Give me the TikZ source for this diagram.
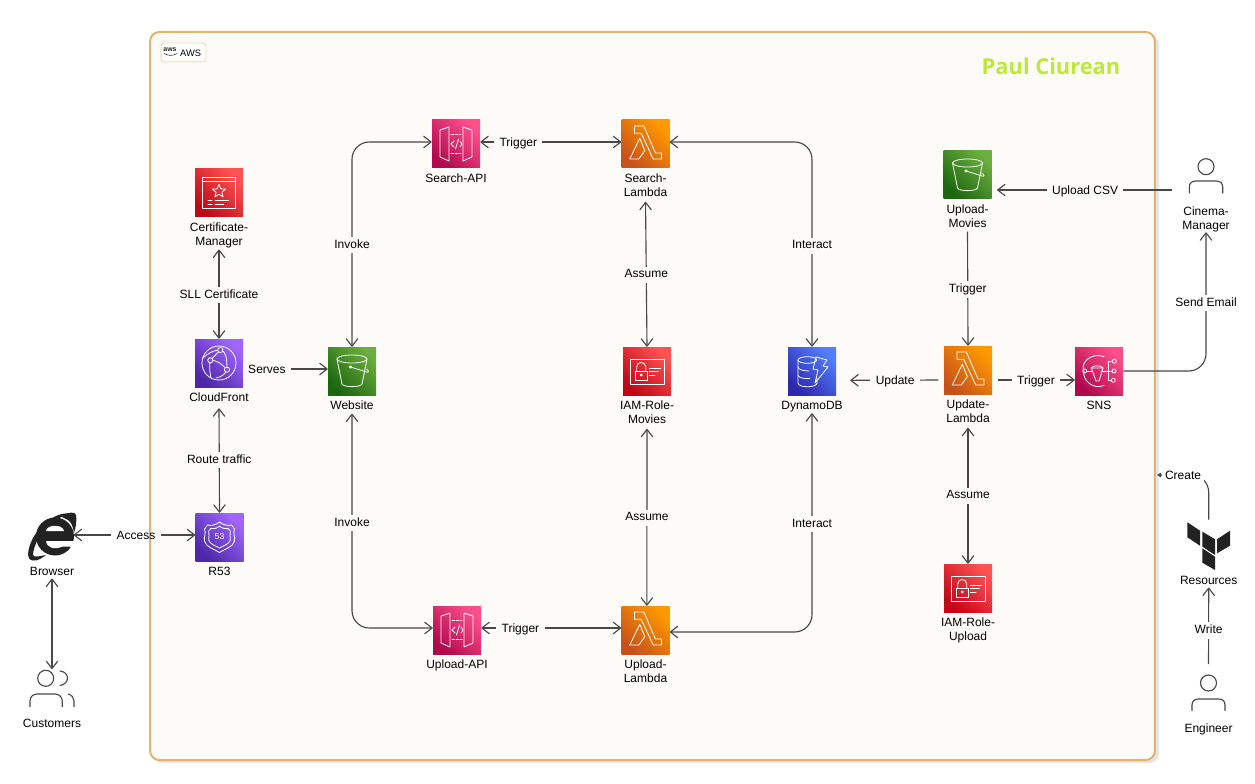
\documentclass[tikz,border=0pt]{standalone}
\usepackage{fontspec}
\setmainfont{Liberation Sans}
\newfontfamily\titlefont{Open Sans}
\usetikzlibrary{arrows.meta,positioning}
\definecolor{cbg}{HTML}{FCFBF7}
\definecolor{cframe}{HTML}{E0B36E}
\definecolor{cline}{HTML}{484848}
\definecolor{cink}{HTML}{222222}
\definecolor{rl}{HTML}{FF5252}\definecolor{rd}{HTML}{BD0816}
\definecolor{pl}{HTML}{FF4F8B}\definecolor{pd}{HTML}{B0084D}
\definecolor{ol}{HTML}{FF9900}\definecolor{od}{HTML}{C8511B}
\definecolor{gl}{HTML}{6CAE3E}\definecolor{gd}{HTML}{1B660F}
\definecolor{vl}{HTML}{A166FF}\definecolor{vd}{HTML}{4D27A8}
\definecolor{bl}{HTML}{527FFF}\definecolor{bd}{HTML}{2E27AD}
\tikzset{
  icobox/.style={minimum size=36pt,inner sep=0pt},
  awsred/.style={icobox,top color=rl,bottom color=rd,shading angle=-45},
  awspink/.style={icobox,top color=pl,bottom color=pd,shading angle=-45},
  awsorange/.style={icobox,top color=ol,bottom color=od,shading angle=-45},
  awsgreen/.style={icobox,top color=gl,bottom color=gd,shading angle=-45},
  awspurple/.style={icobox,top color=vl,bottom color=vd,shading angle=-45},
  awsblue/.style={icobox,top color=bl,bottom color=bd,shading angle=-45},
  glyph/.style={draw=white,line width=.6pt,line join=round,line cap=round},
  lbl/.style={font=\fontsize{9pt}{10.4pt}\selectfont,align=center,inner sep=0pt,text=black,sharp corners,
     execute at begin node={\vphantom{Ag}},execute at end node={\vphantom{g}}},
  conn/.style={draw=cline,line width=.85pt,rounded corners=13pt},
  both/.style={conn,{Straight Barb[length=5.5pt,width=8.5pt,round]}-{Straight Barb[length=5.5pt,width=8.5pt,round]}},
  one/.style={conn,-{Straight Barb[length=5.5pt,width=8.5pt,round]}},
  lab/.style={lbl,fill=cbg,inner xsep=4pt,inner ysep=2pt,yshift=-1.2pt},
  labw/.style={lbl,fill=white,inner xsep=4pt,inner ysep=2pt,yshift=-1.2pt},
  labn/.style={lbl,inner xsep=4pt,inner ysep=2pt},
  person/.style={draw=cline,line width=.85pt,line cap=round},
}
% glyphs, local coordinates in pixels about the icon centre
\newcommand\gBucket{%
  \draw[glyph] (0,-12) ellipse [x radius=15,y radius=4];
  \draw[glyph] (-15,-12) -- (-10,13) .. controls (-9,16.5) and (9,16.5) .. (10,13) -- (15,-12);
  \draw[glyph] (-1.5,-4) -- (13,0.5);
  \draw[glyph] (-1.5,-4) circle [radius=1.2];
  \draw[glyph] (13,0.5) .. controls (18,3) and (17,-1) .. (14,-2);}
\newcommand\gLambda{%
  \draw[glyph] (-11,-18) -- (-1.7,-18) -- (10,9) -- (16,9) -- (16,15) -- (7.7,15) -- (-4.3,-10.7) -- (-11,-10.7) -- cycle;
  \draw[glyph] (-15.7,15) -- (-5.7,-5.7) -- (-0.7,6.7) -- (-6.7,15) -- cycle;}
\newcommand\gApi{%
  \draw[glyph] (-16,-14) -- (-7,-17) -- (-7,17) -- (-16,13) -- cycle;
  \draw[glyph] (16,-14) -- (7,-17) -- (7,17) -- (16,13) -- cycle;
  \draw[glyph,dash pattern=on 2pt off 1.2pt] (-5,-9.5) -- (5,-9.5);
  \draw[glyph,dash pattern=on 2pt off 1.2pt] (-5,9.5) -- (5,9.5);
  \draw[glyph] (-2,-3) -- (-5,0) -- (-2,3);
  \draw[glyph] (2.5,-5) -- (-0.5,5);
  \draw[glyph] (4,-3) -- (6,0) -- (4,3);}
\newcommand\gIam{%
  \draw[glyph] (-16.3,-11.7) rectangle (17,13);
  \draw[glyph] (-12,0) rectangle (0.3,9);
  \draw[glyph] (-10.3,0) -- (-10.3,-4) .. controls (-10.3,-10) and (-1.3,-10) .. (-1.3,-4) -- (-1.3,0);
  \draw[glyph] (-5.8,4) circle [radius=1.1];
  \draw[glyph] (2.3,-2.7) -- (13.7,-2.7);
  \draw[glyph] (2.3,.7) -- (11.3,.7);
  \draw[glyph] (2.3,4) -- (8,4);}
\newcommand\gDdb{%
  \draw[glyph] (-4.7,-11) ellipse [x radius=9.3,y radius=3.3];
  \draw[glyph] (-14,-11) -- (-14,-4) .. controls (-14,-1) and (-7,0) .. (-3,0);
  \draw[glyph] (-14,-4) -- (-14,4) .. controls (-14,7) and (-7,8) .. (-2,7.5);
  \draw[glyph] (-14,4) -- (-14,12) .. controls (-14,17) and (5,17) .. (5,12) -- (5,7);
  \draw[glyph] (4,-14) -- (15,-11) -- (11,-5) -- (16,-4) -- (3,12) -- (6,-1) -- (1,-2) -- cycle;}
\newcommand\gCert{%
  \draw[glyph] (-16.7,-16) rectangle (16.7,15);
  \draw[glyph] (-16.7,-11.7) -- (16.7,-11.7);
  \begin{scope}[yshift=1.3pt]
  \draw[glyph] (-90:7) -- (-54:3) -- (-18:7) -- (18:3) -- (54:7) -- (90:3) -- (126:7) -- (162:3) -- (198:7) -- (234:3) -- cycle;
  \end{scope}
  \draw[glyph] (-11,7.7) -- (-7,7.7) (-4,7.7) -- (9.7,7.7);
  \draw[glyph] (-11,11.3) -- (-7,11.3) (-4,11.3) -- (4.7,11.3);}
\newcommand\gFront{%
  \draw[glyph] (0,0) circle [radius=17];
  \draw[glyph] (-16,-5) .. controls (-12,-9) and (-6,-13) .. (1.3,-13) .. controls (6,-12) and (8,-8) .. (8,6.7);
  \draw[glyph] (-8.7,-2.7) -- (1.3,-13);
  \draw[glyph] (-8.7,-2.7) .. controls (-2,-3) and (3,1) .. (8,6.7);
  \draw[glyph] (-8.7,-2.7) .. controls (-10,5) and (-9,10) .. (-8,15);
  \draw[glyph] (-3,15) .. controls (3,14) and (6,11) .. (8,6.7);
  \foreach \q in {(1.3,-13),(-8.7,-2.7),(8,6.7)} \draw[glyph,fill=vl!60!vd] \q circle [radius=2.6];}
\newcommand\gShield{%
  \foreach \s in {1,.72}{
  \draw[glyph,scale=\s] (0,-15) .. controls (-3,-12) and (-9,-11) .. (-12,-12) -- (-15,-8)
     .. controls (-13,-4) and (-16,0) .. (-15,4) .. controls (-14,10) and (-5,12) .. (0,15.5)
     .. controls (5,12) and (14,10) .. (15,4) .. controls (16,0) and (13,-4) .. (15,-8)
     -- (12,-12) .. controls (9,-11) and (3,-12) .. (0,-15) -- cycle;}
  \node[inner sep=0pt,text=white,font=\fontsize{6.5pt}{6.5pt}\selectfont] (g53) at (0,0) {53};}
\newcommand\gSns{%
  \draw[glyph] (5,-14.5) .. controls (-9,-19) and (-19,-7) .. (-15,0) .. controls (-17,9) and (-6,19) .. (5,14.5);
  \draw[glyph] (-14.3,0) circle [radius=2];
  \draw[glyph] (-7.7,-3) -- (4,-3) -- (0,10) -- (-3,10) -- cycle;
  \draw[glyph] (-7.7,-3) .. controls (-6,-6) and (2,-6) .. (4,-3);
  \draw[glyph] (-12.3,0) -- (-7,0) (2.5,0) -- (13,0);
  \draw[glyph] (13.3,-9.7) -- (9,-9.7) -- (9,9.3) -- (12.3,9.3);
  \draw[glyph] (15.3,-9.7) circle [radius=2];
  \draw[glyph] (15,0) circle [radius=2];
  \draw[glyph] (14.3,9.3) circle [radius=2];}
% service icon: name, x, y, colour style, label, glyph
\newcommand\svc[6]{%
  \node[#4] (#1) at (#2,#3) {};
  \begin{scope}[shift={(#1.center)}]#6\end{scope}
  \node[lbl,below=4pt of #1] (#1L) {#5};}
\begin{document}
\begin{tikzpicture}[x=0.75pt,y=-0.75pt]
\useasboundingbox (0,0) rectangle (1255,784);
\fill[white] (0,0) rectangle (1255,784);
% frame
\fill[black!10,rounded corners=7pt] (153,35) rectangle (1159,763);
\node[draw=cframe,fill=cbg,line width=1.5pt,rounded corners=7pt,minimum width=753.7pt,minimum height=546pt,inner sep=0pt] (frame) at (652.5,396) {};
\node[draw=cframe!50,fill=white,line width=.7pt,rounded corners=2.5pt,minimum width=33.7pt,minimum height=14.2pt,inner sep=0pt] (tag) at (183.5,52.5) {};
\node[inner sep=0pt,font=\fontsize{7pt}{7pt}\selectfont] (tagt) at (190.7,53) {AWS};
\node[inner sep=0pt,font=\bfseries\fontsize{5.2pt}{5.2pt}\selectfont,text=cink] (tagl) at (170,49.5) {aws};
\draw[cink,line width=.4pt] (164,53.5) .. controls (168,56) and (173,56) .. (177,53.5);
\node[inner sep=0pt,font=\titlefont\bfseries\fontsize{16.4pt}{16.4pt}\selectfont,text={rgb,255:red,190;green,232;blue,58}] (title) at (1051,66) {Paul Ciurean};
% services
\svc{cert}{219}{193}{awsred}{Certificate-\\Manager}{\gCert}
\svc{cf}{219}{363}{awspurple}{CloudFront}{\gFront}
\svc{r53}{219.5}{537}{awspurple}{R53}{\gShield}
\svc{web}{352}{371}{awsgreen}{Website}{\gBucket}
\svc{sapi}{456}{144}{awspink}{Search-API}{\gApi}
\svc{slam}{645.5}{144}{awsorange}{Search-\\Lambda}{\gLambda}
\svc{iamm}{647}{371}{awsred}{IAM-Role-\\Movies}{\gIam}
\svc{ddb}{812}{371}{awsblue}{DynamoDB}{\gDdb}
\svc{umov}{967.5}{175}{awsgreen}{Upload-\\Movies}{\gBucket}
\svc{ulam}{968}{370}{awsorange}{Update-\\Lambda}{\gLambda}
\svc{sns}{1099}{371}{awspink}{SNS}{\gSns}
\svc{uapi}{457}{630}{awspink}{Upload-API}{\gApi}
\svc{plam}{645.5}{630}{awsorange}{Upload-\\Lambda}{\gLambda}
\svc{iamu}{968}{588}{awsred}{IAM-Role-\\Upload}{\gIam}
% outside actors
\node[minimum width=36pt,minimum height=35pt,inner sep=0pt] (browser) at (52,537) {};
\begin{scope}[shift={(browser.center)},xshift=-39pt,yshift=402.75pt]
\fill[cink] (73,514) .. controls (60,510) and (42,522) .. (33,538) .. controls (27,550) and (26,560) .. (33,560.5) .. controls (38,561) and (42,558) .. (46,555) .. controls (40,556) and (34,558) .. (33,555) .. controls (33,548) and (40,530) .. (52,522) .. controls (60,517) and (68,514) .. (73,514) -- cycle;
\fill[cink] (55,536.5) circle [radius=19];
\fill[cink] (62,517) .. controls (68,512) and (75,511) .. (76,515) .. controls (77,520) and (76,527) .. (74,533) .. controls (73,526) and (71,522) .. (68,520) -- cycle;
\fill[white] (46,531) .. controls (47,524) and (63,524) .. (64,531) -- cycle;
\fill[white] (46,541) -- (77,541) -- (77,547) -- (63,546.5) .. controls (54,550) and (47,548) .. (46,541) -- cycle;
\end{scope}
\node[lbl,below=5pt of browser] (browserL) {Browser};
\node[minimum width=36pt,minimum height=28pt,inner sep=0pt] (cust) at (52,688) {};
\begin{scope}[shift={(cust.center)},xshift=-39pt,yshift=516pt]
\draw[person] (45.7,678.3) circle [radius=8];
\draw[person] (60,671) .. controls (70,672) and (70,684) .. (60,685.5);
\draw[person] (30,706.7) -- (30,701) .. controls (30,697) and (33,694) .. (37,694) -- (55,694) .. controls (59,694) and (62.3,697) .. (62.3,701) -- (62.3,706.7);
\draw[person] (68.3,694) .. controls (72,695) and (74,698) .. (74,701) -- (74,706.7);
\end{scope}
\node[lbl,below=9pt of cust] (custL) {Customers};
\node[minimum width=26pt,minimum height=30pt,inner sep=0pt] (cinema) at (1206,180) {};
\begin{scope}[shift={(cinema.center)}]
\draw[person] (0,-13.3) circle [radius=8];
\draw[person] (-16.7,13) -- (-16.7,7) .. controls (-16.7,3) and (-14,1) .. (-10,1) -- (10,1) .. controls (14,1) and (16.7,3) .. (16.7,7) -- (16.7,13);
\end{scope}
\node[lbl,below=4.8pt of cinema] (cinemaL) {Cinema-\\Manager};
\node[minimum width=26pt,minimum height=30pt,inner sep=0pt] (eng) at (1208.5,691) {};
\begin{scope}[shift={(eng.center)}]
\draw[person] (0,-8) circle [radius=8];
\draw[person] (-16.5,19.5) -- (-16.5,14) .. controls (-16.5,10) and (-14,8) .. (-10,8) -- (10,8) .. controls (14,8) and (16.5,10) .. (16.5,14) -- (16.5,19.5);
\end{scope}
\node[lbl,below=9.5pt of eng] (engL) {Engineer};
\node[minimum width=33pt,minimum height=39pt,inner sep=0pt] (res) at (1208.7,546) {};
\begin{scope}[shift={(res.center)}]
\fill[cink] (-21.3,-23.7) -- (-8.7,-15.3) -- (-8.7,-.3) -- (-21.3,-8.7) -- cycle;
\fill[cink] (-6.3,-14.3) -- (6.3,-6.7) -- (6.3,9) -- (-6.3,.7) -- cycle;
\fill[cink] (8.3,-6.7) -- (21.3,-15.3) -- (21.3,-.3) -- (8.3,7.3) -- cycle;
\fill[cink] (-6.3,2.3) -- (6.3,10.7) -- (6.3,24) -- (-6.3,16.7) -- cycle;
\end{scope}
\node[lbl,below=3pt of res] (resL) {Resources};
% connectors
\draw[both,shorten <=1pt] (certL.south) -- node[lab] (l1) {SLL Certificate} (cf.north);
\draw[both,shorten <=3pt] (cfL.south) -- node[lab] (l2) {Route traffic} (r53.north);
\draw[one] ([yshift=-4.5pt]cf.east) -- node[lab,pos=.28] (l3) {Serves} ([yshift=1.5pt]web.west);
\draw[both] (web.north) |- node[lab,pos=.252] (l4) {Invoke} ([yshift=1.5pt]sapi.west);
\draw[both,shorten <=1pt] (webL.south) |- node[lab,pos=.253] (l5) {Invoke} ([yshift=1.5pt]uapi.west);
\draw[both] ([yshift=1.5pt]sapi.east) -- node[lab,pos=.27] (l6) {Trigger} ([yshift=1.5pt]slam.west);
\draw[both] ([yshift=1.5pt]uapi.east) -- node[lab,pos=.28] (l7) {Trigger} ([yshift=1.5pt]plam.west);
\draw[both,shorten <=2pt] (slamL.south) -- node[lab] (l8) {Assume} (iamm.north);
\draw[both,shorten <=2pt] (iammL.south) -- node[lab,pos=.5] (l9) {Assume} ([xshift=1pt]plam.north);
\draw[both] ([yshift=1.5pt]slam.east) -| node[lab,pos=.75] (l10) {Interact} (ddb.north);
\draw[both] ([yshift=-1.5pt]plam.east) -| node[lab,pos=.75] (l11) {Interact} ([yshift=-1pt]ddbL.south);
\draw[one,shorten <=4pt] ([yshift=-7.5pt]ulam.west) -- node[lab,pos=.52] (l12) {Update} ([yshift=-7pt,xshift=10.5pt]ddb.east);
\draw[one,shorten <=4pt] ([yshift=-7.5pt]ulam.east) -- node[lab,pos=.53] (l13) {Trigger} ([yshift=-6.75pt]sns.west);
\draw[one] (sns.east) -| node[labw,pos=.75] (l14) {Send Email} (cinemaL.south);
\draw[one,shorten <=12pt] ([yshift=-7.5pt]cinema.west) -- node[lab,pos=.54] (l15) {Upload CSV} ([yshift=-11.25pt,xshift=4pt]umov.east);
\draw[one,shorten <=1pt] (umovL.south) -- node[lab,pos=.5] (l16) {Trigger} (ulam.north);
\draw[both,shorten <=2pt] (ulamL.south) -- node[lab] (l17) {Assume} (iamu.north);
\draw[both] (browserL.south) -- (cust.north);
\node[labn] (l18) at (136,536.5) {Access};
\coordinate (acc) at ([yshift=1.5pt]r53.west);
\draw[conn,{Straight Barb[length=5.5pt,width=8.5pt,round]}-] ([xshift=-2pt,yshift=1.5pt]browser.east) -- (l18.west |- acc);
\draw[conn,-{Straight Barb[length=5.5pt,width=8.5pt,round]}] (l18.east |- acc) -- (acc);
\draw[one,shorten <=5pt] (eng.north) -- node[labw,pos=.5] (l19) {Write} (resL.south);
\coordinate (cy) at (1183,475);
\draw[conn,-{Triangle[length=3pt,width=3.5pt]}] (res.north) |- ([xshift=.8pt]frame.east |- cy);
\node[labw,inner xsep=2pt,inner ysep=1pt] (l20) at (cy) {Create};
\end{tikzpicture}
\end{document}
